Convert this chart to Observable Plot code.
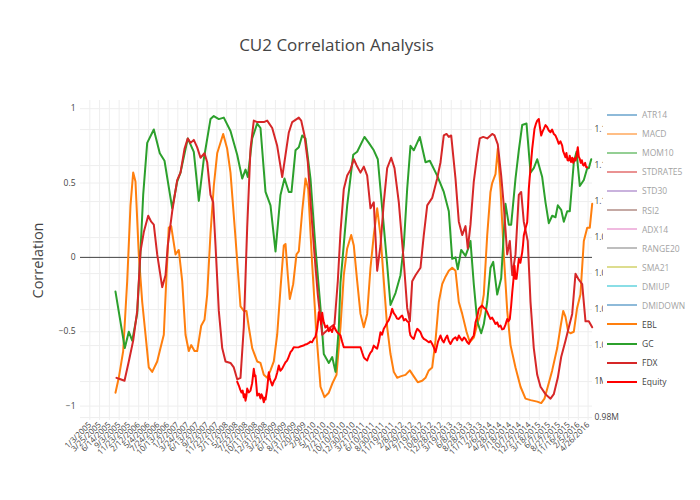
<!DOCTYPE html>
<html><head><meta charset="utf-8">
<script src="https://cdn.jsdelivr.net/npm/d3@7"></script>
<script src="https://cdn.jsdelivr.net/npm/@observablehq/plot@0.6"></script>
<style>
body{margin:0;background:#fff;font-family:"Open Sans",sans-serif;}
#wrap{position:relative;width:700px;height:500px;overflow:hidden;}
#legend{position:absolute;left:603px;top:104px;width:97px;height:290px;background:#fff;}
.item{position:absolute;left:4px;height:19px;display:flex;align-items:center;font-size:8.5px;color:#444;white-space:nowrap;}
.item svg{margin-right:5px;}
</style></head><body><div id="wrap"><div id="legend"></div></div>
<script>
const title = "CU2 Correlation Analysis";
const yTitle = "Correlation";
const xTickLabels = ["1/3/2005","3/25/2005","6/14/2005","9/3/2005","11/23/2005","2/12/2006","5/4/2006","7/24/2006","10/13/2006","1/2/2007","3/24/2007","6/13/2007","9/2/2007","11/22/2007","2/11/2008","5/2/2008","7/22/2008","10/11/2008","12/31/2008","3/22/2009","6/11/2009","8/31/2009","11/20/2009","2/9/2010","5/1/2010","7/21/2010","10/10/2010","12/30/2010","3/21/2011","6/10/2011","8/30/2011","11/19/2011","2/8/2012","4/29/2012","7/19/2012","10/8/2012","12/28/2012","3/19/2013","6/8/2013","8/28/2013","11/17/2013","2/6/2014","4/28/2014","7/18/2014","10/7/2014","12/27/2014","3/18/2015","6/7/2015","8/27/2015","11/16/2015","2/5/2016","4/26/2016"];
const yTicks = [-1, -0.5, 0, 0.5, 1];
const eqTicks = [980000, 1000000, 1020000, 1040000, 1060000, 1080000, 1100000, 1120000, 1140000];
const eqTickLabels = ["0.98M","1M","1.02M","1.04M","1.06M","1.08M","1.1M","1.12M","1.14M"];

const legendNames = ["ATR14","MACD","MOM10","STDRATE5","STD30","RSI2","ADX14","RANGE20","SMA21","DMIUP","DMIDOWN","EBL","GC","FDX","Equity"];
const legendColors = ["#1f77b4","#ff7f0e","#2ca02c","#d62728","#9467bd","#8c564b","#e377c2","#7f7f7f","#bcbd22","#17becf","#1f77b4","#ff7f0e","#2ca02c","#d62728","#ff0000"];
const legendVisible = [false,false,false,false,false,false,false,false,false,false,false,true,true,true,true];

// [decimal year, correlation]
const ebl = [[2005.588,-0.91],[2005.663,-0.81],[2005.763,-0.63],[2005.854,-0.16],[2005.929,0.35],[2005.990,0.57],[2006.042,0.51],[2006.117,0.02],[2006.195,-0.30],[2006.270,-0.52],[2006.344,-0.74],[2006.422,-0.77],[2006.535,-0.70],[2006.610,-0.61],[2006.685,-0.52],[2006.746,-0.12],[2006.798,0.20],[2006.853,0.21],[2006.951,0.02],[2007.025,0.05],[2007.103,-0.16],[2007.178,-0.52],[2007.252,-0.63],[2007.307,-0.59],[2007.382,-0.63],[2007.443,-0.63],[2007.534,-0.46],[2007.609,-0.42],[2007.670,-0.25],[2007.745,0.16],[2007.820,0.48],[2007.897,0.70],[2008.033,0.83],[2008.124,0.73],[2008.199,0.57],[2008.313,0.13],[2008.426,-0.33],[2008.501,-0.36],[2008.562,-0.36],[2008.615,-0.47],[2008.692,-0.61],[2008.805,-0.70],[2008.880,-0.71],[2008.955,-0.79],[2009.032,-0.81],[2009.107,-0.76],[2009.182,-0.70],[2009.259,-0.52],[2009.334,-0.21],[2009.409,0.08],[2009.448,0.09],[2009.500,-0.12],[2009.545,-0.28],[2009.622,-0.18],[2009.697,0.02],[2009.750,0.04],[2009.827,0.31],[2009.902,0.53],[2009.963,0.46],[2010.054,-0.05],[2010.151,-0.52],[2010.242,-0.87],[2010.333,-0.94],[2010.431,-0.91],[2010.508,-0.85],[2010.605,-0.79],[2010.696,-0.47],[2010.771,-0.12],[2010.848,0.06],[2010.939,0.15],[2010.998,0.08],[2011.075,-0.16],[2011.150,-0.38],[2011.225,-0.47],[2011.302,-0.38],[2011.377,-0.07],[2011.452,0.15],[2011.529,0.33],[2011.604,0.15],[2011.679,-0.16],[2011.756,-0.47],[2011.831,-0.65],[2011.906,-0.77],[2011.983,-0.81],[2012.058,-0.80],[2012.172,-0.79],[2012.270,-0.76],[2012.360,-0.80],[2012.451,-0.84],[2012.551,-0.83],[2012.626,-0.81],[2012.701,-0.76],[2012.778,-0.74],[2012.853,-0.56],[2012.928,-0.30],[2013.005,-0.18],[2013.080,-0.13],[2013.155,-0.09],[2013.232,-0.07],[2013.307,-0.09],[2013.382,-0.30],[2013.459,-0.38],[2013.557,-0.50],[2013.632,-0.57],[2013.722,-0.54],[2013.800,-0.45],[2013.874,-0.38],[2013.949,-0.25],[2014.027,0.15],[2014.101,0.44],[2014.140,0.50],[2014.215,0.56],[2014.267,0.73],[2014.329,0.46],[2014.403,0.02],[2014.481,-0.36],[2014.556,-0.59],[2014.669,-0.74],[2014.783,-0.87],[2014.896,-0.95],[2015.010,-0.96],[2015.162,-0.97],[2015.253,-0.98],[2015.327,-0.95],[2015.402,-0.87],[2015.502,-0.76],[2015.616,-0.61],[2015.690,-0.47],[2015.752,-0.36],[2015.804,-0.40],[2015.866,-0.50],[2015.918,-0.51],[2015.993,-0.50],[2016.068,-0.34],[2016.143,-0.25],[2016.220,0.11],[2016.297,0.20],[2016.356,0.20],[2016.410,0.36]];

const gc = [[2005.588,-0.23],[2005.800,-0.61],[2005.890,-0.50],[2005.968,-0.56],[2006.081,-0.38],[2006.156,0.04],[2006.217,0.42],[2006.308,0.77],[2006.458,0.86],[2006.594,0.70],[2006.701,0.65],[2006.876,0.33],[2006.989,0.51],[2007.064,0.57],[2007.230,0.80],[2007.366,0.71],[2007.480,0.38],[2007.593,0.66],[2007.745,0.93],[2007.820,0.95],[2007.934,0.93],[2008.047,0.94],[2008.199,0.85],[2008.351,0.69],[2008.465,0.53],[2008.540,0.59],[2008.592,0.54],[2008.692,0.80],[2008.805,0.90],[2008.880,0.87],[2008.994,0.44],[2009.107,0.35],[2009.221,0.04],[2009.334,0.42],[2009.425,0.53],[2009.523,0.44],[2009.584,0.44],[2009.675,0.72],[2009.750,0.74],[2009.827,0.82],[2009.902,0.80],[2010.015,0.53],[2010.129,0.06],[2010.242,-0.34],[2010.317,-0.65],[2010.431,-0.71],[2010.508,-0.67],[2010.583,-0.77],[2010.658,-0.47],[2010.696,-0.17],[2010.848,0.35],[2010.985,0.69],[2011.075,0.71],[2011.241,0.81],[2011.339,0.77],[2011.452,0.72],[2011.543,0.66],[2011.643,0.33],[2011.756,-0.05],[2011.831,-0.32],[2011.945,-0.24],[2012.058,-0.12],[2012.133,0.08],[2012.210,0.46],[2012.285,0.75],[2012.360,0.72],[2012.497,0.81],[2012.626,0.64],[2012.724,0.65],[2012.891,0.55],[2013.041,0.44],[2013.155,0.31],[2013.232,-0.01],[2013.307,0.00],[2013.359,-0.08],[2013.436,0.05],[2013.534,0.01],[2013.609,0.07],[2013.647,0.11],[2013.722,-0.18],[2013.800,-0.43],[2013.890,-0.51],[2013.949,-0.45],[2014.027,-0.30],[2014.101,-0.07],[2014.163,-0.03],[2014.254,-0.25],[2014.344,-0.14],[2014.442,0.36],[2014.517,0.22],[2014.571,0.22],[2014.669,0.53],[2014.744,0.72],[2014.821,0.89],[2014.919,0.90],[2015.010,0.57],[2015.084,0.60],[2015.162,0.66],[2015.275,0.54],[2015.350,0.37],[2015.425,0.23],[2015.502,0.28],[2015.577,0.27],[2015.629,0.35],[2015.706,0.32],[2015.766,0.24],[2015.843,0.31],[2015.902,0.31],[2015.993,0.64],[2016.054,0.71],[2016.129,0.48],[2016.220,0.52],[2016.297,0.60],[2016.333,0.60],[2016.388,0.66]];

const fdx = [[2005.611,-0.81],[2005.702,-0.82],[2005.793,-0.83],[2005.890,-0.70],[2005.990,-0.56],[2006.081,-0.36],[2006.156,0.04],[2006.231,0.17],[2006.331,0.28],[2006.399,0.24],[2006.458,0.22],[2006.535,0.02],[2006.649,-0.20],[2006.724,-0.12],[2006.776,0.08],[2006.876,0.31],[2006.989,0.52],[2007.064,0.57],[2007.155,0.73],[2007.230,0.80],[2007.291,0.77],[2007.366,0.79],[2007.443,0.74],[2007.518,0.67],[2007.609,0.70],[2007.670,0.64],[2007.745,0.42],[2007.806,0.37],[2007.859,0.08],[2007.934,-0.36],[2008.011,-0.61],[2008.086,-0.70],[2008.199,-0.71],[2008.274,-0.74],[2008.351,-0.82],[2008.426,-0.81],[2008.501,-0.47],[2008.578,0.20],[2008.653,0.73],[2008.728,0.92],[2008.805,0.91],[2008.955,0.91],[2009.032,0.92],[2009.146,0.87],[2009.259,0.75],[2009.373,0.54],[2009.448,0.69],[2009.523,0.84],[2009.600,0.91],[2009.750,0.94],[2009.804,0.92],[2009.879,0.82],[2009.954,0.64],[2010.031,0.31],[2010.106,0.02],[2010.181,-0.25],[2010.281,-0.52],[2010.356,-0.50],[2010.469,-0.47],[2010.560,-0.45],[2010.635,-0.16],[2010.696,0.17],[2010.771,0.46],[2010.848,0.55],[2010.923,0.59],[2010.998,0.66],[2011.060,0.62],[2011.150,0.57],[2011.225,0.61],[2011.302,0.55],[2011.377,0.33],[2011.452,0.37],[2011.529,-0.09],[2011.604,0.08],[2011.679,0.37],[2011.756,0.60],[2011.847,0.67],[2011.922,0.60],[2012.020,0.37],[2012.133,-0.03],[2012.210,-0.34],[2012.270,-0.43],[2012.324,-0.16],[2012.399,-0.12],[2012.512,-0.07],[2012.587,0.15],[2012.665,0.35],[2012.778,0.40],[2012.891,0.53],[2012.967,0.64],[2013.041,0.82],[2013.103,0.83],[2013.155,0.81],[2013.209,0.82],[2013.307,0.53],[2013.382,0.24],[2013.459,0.15],[2013.534,0.21],[2013.586,0.06],[2013.647,0.22],[2013.722,0.51],[2013.800,0.69],[2013.858,0.80],[2013.936,0.81],[2014.027,0.80],[2014.140,0.83],[2014.192,0.82],[2014.267,0.76],[2014.344,0.55],[2014.403,0.35],[2014.481,0.02],[2014.540,0.11],[2014.595,-0.12],[2014.669,0.02],[2014.744,0.42],[2014.798,0.44],[2014.857,0.24],[2014.947,0.11],[2015.010,-0.30],[2015.084,-0.61],[2015.162,-0.79],[2015.237,-0.87],[2015.350,-0.92],[2015.464,-0.95],[2015.538,-0.92],[2015.629,-0.81],[2015.706,-0.67],[2015.804,-0.56],[2015.879,-0.47],[2015.956,-0.38],[2016.031,-0.11],[2016.106,-0.15],[2016.183,-0.18],[2016.258,-0.43],[2016.333,-0.43],[2016.410,-0.47]];

// [decimal year, equity in $]
const equity = [[2008.351,1000000],[2008.388,997800],[2008.420,995500],[2008.449,993900],[2008.475,995000],[2008.501,991300],[2008.520,993000],[2008.540,989400],[2008.560,992000],[2008.578,996100],[2008.615,994000],[2008.653,995000],[2008.690,999000],[2008.728,1007100],[2008.750,1003000],[2008.767,1003300],[2008.790,997000],[2008.805,992200],[2008.846,993300],[2008.880,990600],[2008.900,993000],[2008.926,991700],[2008.955,988500],[2008.975,991000],[2008.994,990000],[2009.032,996100],[2009.069,1005200],[2009.090,1002000],[2009.107,1000600],[2009.146,997800],[2009.180,1000000],[2009.221,1001700],[2009.260,1005000],[2009.296,1008900],[2009.330,1006000],[2009.373,1007200],[2009.410,1009000],[2009.448,1010700],[2009.480,1011500],[2009.505,1012800],[2009.561,1016300],[2009.600,1017500],[2009.636,1019100],[2009.700,1019000],[2009.750,1019100],[2009.800,1019600],[2009.856,1020000],[2009.900,1020600],[2009.940,1020900],[2009.980,1021500],[2010.015,1022200],[2010.050,1021800],[2010.090,1023700],[2010.130,1025000],[2010.167,1029300],[2010.185,1033000],[2010.204,1038500],[2010.225,1034500],[2010.242,1035000],[2010.260,1032000],[2010.281,1038300],[2010.300,1035000],[2010.317,1032900],[2010.355,1030000],[2010.394,1031100],[2010.430,1028000],[2010.469,1029300],[2010.505,1027500],[2010.544,1031100],[2010.580,1029000],[2010.621,1027400],[2010.660,1026500],[2010.696,1025600],[2010.735,1022000],[2010.771,1019100],[2010.923,1019100],[2011.150,1019100],[2011.190,1016000],[2011.225,1013500],[2011.260,1012500],[2011.302,1011700],[2011.343,1014400],[2011.377,1016100],[2011.410,1017000],[2011.452,1020000],[2011.490,1019000],[2011.529,1018300],[2011.565,1022000],[2011.604,1027400],[2011.640,1026000],[2011.679,1029400],[2011.720,1031000],[2011.756,1032900],[2011.790,1034000],[2011.831,1036700],[2011.870,1040400],[2011.905,1038000],[2011.945,1036700],[2011.980,1035000],[2012.020,1034800],[2012.060,1036000],[2012.097,1036700],[2012.135,1034000],[2012.172,1034800],[2012.210,1033500],[2012.247,1032900],[2012.265,1028000],[2012.285,1025600],[2012.320,1024500],[2012.360,1023700],[2012.400,1027000],[2012.438,1029300],[2012.475,1028500],[2012.512,1027400],[2012.550,1025000],[2012.587,1023700],[2012.640,1023000],[2012.701,1021800],[2012.740,1022500],[2012.778,1020900],[2012.815,1019000],[2012.853,1016300],[2012.880,1019000],[2012.910,1022200],[2012.940,1024000],[2012.967,1025600],[2013.005,1023000],[2013.041,1021800],[2013.080,1024000],[2013.119,1025600],[2013.155,1022500],[2013.193,1020900],[2013.250,1023500],[2013.307,1024600],[2013.345,1023000],[2013.382,1025600],[2013.420,1024000],[2013.459,1022800],[2013.500,1024500],[2013.534,1023700],[2013.570,1022000],[2013.609,1020900],[2013.647,1022800],[2013.690,1024500],[2013.722,1025600],[2013.761,1032900],[2013.800,1036000],[2013.836,1040400],[2013.875,1041500],[2013.913,1042200],[2013.950,1041000],[2013.988,1040400],[2014.030,1038500],[2014.065,1036500],[2014.101,1034800],[2014.140,1035500],[2014.176,1033900],[2014.215,1032000],[2014.254,1032900],[2014.290,1030500],[2014.329,1031100],[2014.365,1029000],[2014.403,1029300],[2014.440,1031500],[2014.481,1034800],[2014.510,1033500],[2014.540,1034800],[2014.570,1042000],[2014.595,1049600],[2014.620,1056000],[2014.646,1064400],[2014.670,1057100],[2014.692,1057100],[2014.720,1063000],[2014.744,1068200],[2014.780,1066000],[2014.821,1071800],[2014.840,1076000],[2014.857,1081100],[2014.895,1085000],[2014.935,1088500],[2014.955,1098000],[2014.971,1107100],[2014.990,1113000],[2015.010,1118200],[2015.030,1124000],[2015.048,1129300],[2015.075,1135000],[2015.100,1140400],[2015.130,1143000],[2015.162,1145000],[2015.198,1145900],[2015.225,1141000],[2015.253,1136700],[2015.285,1139000],[2015.312,1140400],[2015.350,1142500],[2015.389,1141300],[2015.425,1139500],[2015.464,1138500],[2015.500,1140000],[2015.540,1137500],[2015.577,1136700],[2015.615,1134500],[2015.652,1132100],[2015.690,1133500],[2015.729,1131100],[2015.750,1128000],[2015.775,1126500],[2015.804,1124600],[2015.825,1127000],[2015.850,1123000],[2015.879,1122800],[2015.900,1125500],[2015.930,1122000],[2015.956,1124400],[2015.980,1121500],[2016.005,1124000],[2016.031,1122800],[2016.055,1125500],[2016.083,1130200],[2016.105,1125000],[2016.129,1123700],[2016.150,1121500],[2016.175,1123000],[2016.200,1120500],[2016.220,1120000],[2016.250,1121500],[2016.275,1119000],[2016.297,1119100]];

// helpers
function decYear(s){const [m,d,y]=s.split("/").map(Number);const t=Date.UTC(y,m-1,d),a=Date.UTC(y,0,1),b=Date.UTC(y+1,0,1);return y+(t-a)/(b-a);}
const xTickYears = xTickLabels.map(decYear);
const xLabelMap = new Map(xTickYears.map((v,i)=>[v,xTickLabels[i]]));
// secondary (right) axis: equity dollars -> correlation units
const eqScale = d3.scaleLinear().domain([980000,1140000]).range([(256.8-417)/148.7,(256.8-129)/148.7]);
const eqTickPos = eqTicks.map(eqScale);
const eqLabelMap = new Map(eqTickPos.map((v,i)=>[v,eqTickLabels[i]]));
const fmtY = d => (d < 0 ? "\u2212" : "") + String(Math.abs(d));

const grid = "#eeeeee";
const chart = Plot.plot({
  width:700, height:500,
  marginLeft:80, marginRight:108, marginTop:100, marginBottom:80,
  style:{fontFamily:"'Open Sans', sans-serif", background:"#fff", color:"#444"},
  x:{type:"linear", domain:[2004.794, 2016.417]},
  y:{domain:[-1.097, 1.055]},
  marks:[
    Plot.gridX(xTickYears, {stroke:grid, strokeOpacity:1, strokeWidth:1}),
    Plot.gridY(yTicks, {stroke:grid, strokeOpacity:1, strokeWidth:1}),
    Plot.gridY(eqTickPos, {stroke:grid, strokeOpacity:1, strokeWidth:1}),
    Plot.ruleY([0], {stroke:"#444", strokeWidth:1}),
    Plot.axisY(yTicks, {anchor:"left", tickSize:0, tickPadding:5, fontSize:8.5, fill:"#444", label:null, tickFormat:fmtY}),
    Plot.axisY(eqTickPos, {anchor:"right", tickSize:0, tickPadding:2, fontSize:8.5, fill:"#444", label:null, tickFormat:d=>eqLabelMap.get(d)}),
    Plot.axisX(xTickYears, {anchor:"bottom", tickSize:0, tickPadding:3, tickRotate:-45, fontSize:8, fill:"#444", label:null, tickFormat:d=>xLabelMap.get(d)}),
    Plot.line(ebl, {x:d=>d[0], y:d=>d[1], stroke:legendColors[11], strokeWidth:2}),
    Plot.line(gc, {x:d=>d[0], y:d=>d[1], stroke:legendColors[12], strokeWidth:2}),
    Plot.line(fdx, {x:d=>d[0], y:d=>d[1], stroke:legendColors[13], strokeWidth:2}),
    Plot.line(equity, {x:d=>d[0], y:d=>eqScale(d[1]), stroke:legendColors[14], strokeWidth:2}),
    Plot.text([title], {frameAnchor:"top", dy:-55, lineAnchor:"middle", textAnchor:"middle", fontSize:17, fill:"#444", text:d=>d}),
    Plot.text([yTitle], {frameAnchor:"left", dx:-42, rotate:-90, lineAnchor:"middle", textAnchor:"middle", fontSize:14.5, fill:"#444", text:d=>d})
  ]
});
const wrap = document.getElementById("wrap");
wrap.insertBefore(chart, wrap.firstChild);

const legend = document.getElementById("legend");
legendNames.forEach((n,i)=>{
  const it = document.createElement("div");
  it.className = "item";
  it.style.top = (114.7 + 19.07*i - 104 - 9.5) + "px";
  if(!legendVisible[i]) it.style.opacity = 0.5;
  it.innerHTML = `<svg width="30" height="4"><line x1="0" x2="30" y1="2" y2="2" stroke="${legendColors[i]}" stroke-width="2"/></svg><span>${n}</span>`;
  legend.appendChild(it);
});
</script>
</body></html>
